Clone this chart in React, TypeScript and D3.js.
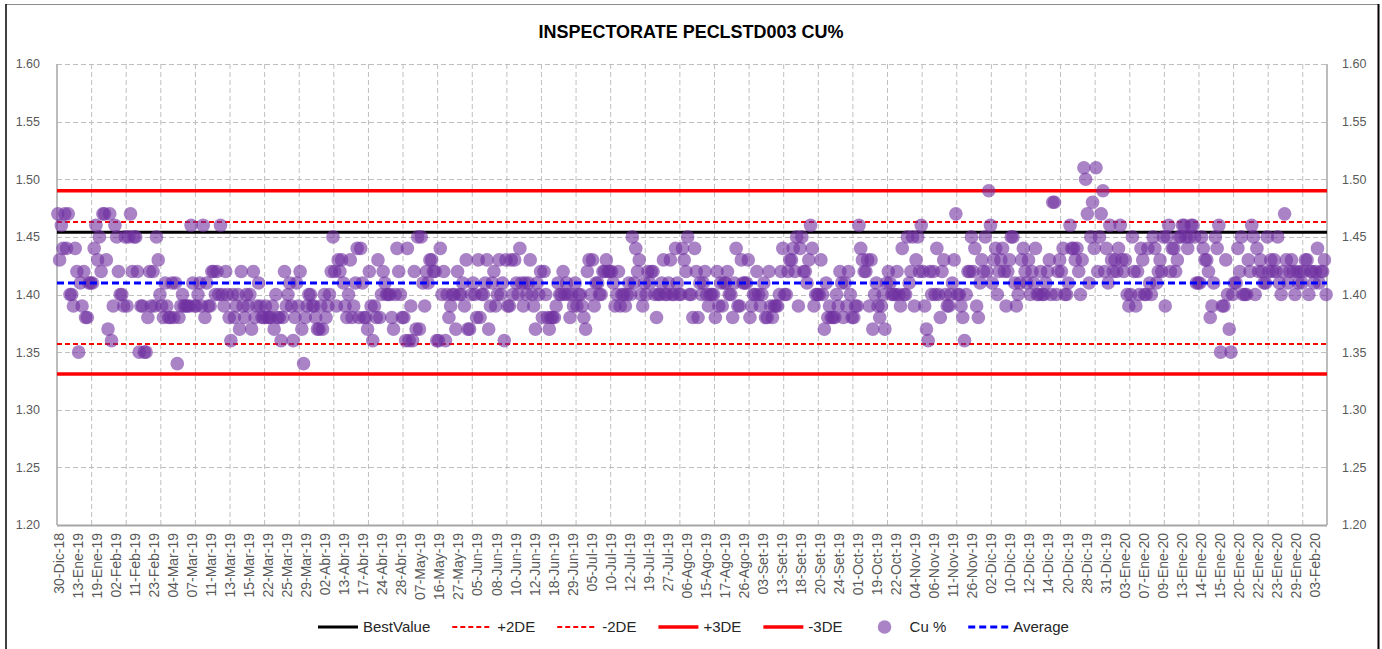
import React, { useEffect, useRef } from "react";
import * as d3 from "d3";

// Cu % results in sample order (one row = 20 samples)
const cuBlock1 = [
  1.47, 1.43, 1.46, 1.44, 1.47, 1.44, 1.47, 1.40, 1.40, 1.39, 1.44, 1.42, 1.35, 1.41, 1.39, 1.42, 1.38, 1.38, 1.41, 1.41,
  1.41, 1.44, 1.46, 1.43, 1.45, 1.42, 1.47, 1.47, 1.43, 1.37, 1.47, 1.36, 1.39, 1.46, 1.45, 1.42, 1.40, 1.40, 1.39, 1.45,
  1.39, 1.45, 1.47, 1.42, 1.45, 1.45, 1.42, 1.35, 1.39, 1.39, 1.35, 1.35, 1.38, 1.42, 1.39, 1.42, 1.39, 1.45, 1.43, 1.40,
  1.39, 1.38, 1.41, 1.39, 1.38, 1.38, 1.41, 1.38, 1.41, 1.34, 1.38, 1.39, 1.40, 1.39, 1.39, 1.39, 1.39, 1.46, 1.41, 1.39,
  1.39, 1.40, 1.41, 1.39, 1.46, 1.38, 1.41, 1.39, 1.39, 1.42, 1.42, 1.40, 1.42, 1.40, 1.46, 1.40, 1.39, 1.42, 1.40, 1.38,
  1.36, 1.40, 1.38, 1.39, 1.40, 1.37, 1.42, 1.39, 1.38, 1.40, 1.39, 1.40, 1.37, 1.42, 1.38, 1.39, 1.41, 1.39, 1.38, 1.38,
  1.39, 1.38, 1.38, 1.38, 1.39, 1.37, 1.40, 1.38, 1.38, 1.36, 1.38, 1.42, 1.39, 1.40, 1.41, 1.39, 1.36, 1.38, 1.41, 1.39,
  1.42, 1.37, 1.34, 1.38, 1.39, 1.40, 1.40, 1.39, 1.39, 1.38, 1.37, 1.37, 1.39, 1.37, 1.40, 1.38, 1.39, 1.40, 1.42, 1.45,
  1.42, 1.39, 1.43, 1.42, 1.43, 1.41, 1.39, 1.38, 1.40, 1.43, 1.38, 1.39, 1.41, 1.44, 1.38, 1.44, 1.41, 1.38, 1.38, 1.37,
];
const cuBlock2 = [
  1.42, 1.39, 1.36, 1.39, 1.38, 1.43, 1.38, 1.40, 1.42, 1.41, 1.40, 1.40, 1.40, 1.38, 1.37, 1.40, 1.44, 1.42, 1.40, 1.38,
  1.38, 1.36, 1.44, 1.36, 1.39, 1.36, 1.42, 1.37, 1.45, 1.37, 1.45, 1.41, 1.39, 1.42, 1.41, 1.43, 1.43, 1.42, 1.42, 1.36,
  1.36, 1.44, 1.40, 1.42, 1.36, 1.40, 1.38, 1.39, 1.40, 1.40, 1.37, 1.42, 1.40, 1.40, 1.41, 1.39, 1.43, 1.37, 1.37, 1.40,
  1.41, 1.40, 1.38, 1.43, 1.38, 1.40, 1.40, 1.41, 1.43, 1.37, 1.39, 1.41, 1.42, 1.39, 1.40, 1.43, 1.40, 1.41, 1.36, 1.43,
  1.39, 1.39, 1.43, 1.40, 1.43, 1.41, 1.40, 1.44, 1.41, 1.39, 1.41, 1.40, 1.41, 1.43, 1.40, 1.39, 1.37, 1.41, 1.40, 1.42,
  1.38, 1.42, 1.40, 1.38, 1.37, 1.38, 1.38, 1.38, 1.39, 1.41, 1.40, 1.40, 1.42, 1.40, 1.41, 1.40, 1.38, 1.40, 1.39, 1.41,
  1.39, 1.40, 1.40, 1.39, 1.38, 1.37, 1.42, 1.43, 1.40, 1.43, 1.39, 1.41, 1.41, 1.40, 1.40, 1.42, 1.42, 1.43, 1.42, 1.42,
  1.42, 1.41, 1.39, 1.40, 1.42, 1.39, 1.40, 1.40, 1.39, 1.40, 1.41, 1.40, 1.45, 1.41, 1.44, 1.42, 1.43, 1.40, 1.39, 1.41,
  1.40, 1.42, 1.41, 1.42, 1.42, 1.40, 1.38, 1.40, 1.40, 1.41, 1.43, 1.40, 1.40, 1.41, 1.43, 1.40, 1.40, 1.44, 1.41, 1.40,
];
const cuBlock3 = [
  1.40, 1.44, 1.43, 1.42, 1.45, 1.40, 1.40, 1.38, 1.44, 1.42, 1.38, 1.41, 1.40, 1.41, 1.42, 1.40, 1.39, 1.40, 1.40, 1.40,
  1.38, 1.42, 1.39, 1.41, 1.39, 1.41, 1.41, 1.42, 1.40, 1.40, 1.38, 1.41, 1.44, 1.39, 1.39, 1.43, 1.41, 1.41, 1.41, 1.43,
  1.38, 1.39, 1.40, 1.40, 1.42, 1.40, 1.39, 1.40, 1.41, 1.38, 1.38, 1.42, 1.39, 1.38, 1.39, 1.39, 1.39, 1.40, 1.42, 1.44,
  1.40, 1.40, 1.42, 1.43, 1.43, 1.44, 1.42, 1.45, 1.39, 1.44, 1.45, 1.42, 1.42, 1.41, 1.43, 1.46, 1.44, 1.39, 1.40, 1.40,
  1.40, 1.43, 1.40, 1.37, 1.41, 1.38, 1.39, 1.38, 1.38, 1.38, 1.40, 1.39, 1.42, 1.41, 1.38, 1.41, 1.39, 1.42, 1.40, 1.38,
  1.38, 1.39, 1.39, 1.46, 1.44, 1.43, 1.42, 1.42, 1.43, 1.39, 1.43, 1.37, 1.40, 1.41, 1.39, 1.38, 1.39, 1.40, 1.37, 1.41,
  1.42, 1.41, 1.40, 1.40, 1.40, 1.42, 1.40, 1.39, 1.44, 1.40, 1.40, 1.45, 1.41, 1.42, 1.45, 1.39, 1.43, 1.45, 1.42, 1.46,
  1.42, 1.39, 1.37, 1.36, 1.42, 1.40, 1.42, 1.40, 1.44, 1.40, 1.38, 1.42, 1.43, 1.40, 1.39, 1.39, 1.40, 1.41, 1.43, 1.47,
  1.40, 1.40, 1.39, 1.38, 1.36, 1.40, 1.42, 1.42, 1.45, 1.42, 1.44, 1.39, 1.38, 1.41, 1.43, 1.42, 1.45, 1.42, 1.49, 1.46,
];
const cuBlock4 = [
  1.41, 1.43, 1.44, 1.40, 1.42, 1.43, 1.44, 1.42, 1.39, 1.42, 1.43, 1.45, 1.45, 1.41, 1.39, 1.40, 1.41, 1.43, 1.44, 1.42,
  1.41, 1.43, 1.40, 1.42, 1.41, 1.44, 1.40, 1.40, 1.42, 1.40, 1.40, 1.41, 1.42, 1.43, 1.40, 1.48, 1.48, 1.40, 1.42, 1.43,
  1.42, 1.44, 1.40, 1.40, 1.41, 1.46, 1.44, 1.44, 1.43, 1.44, 1.42, 1.40, 1.43, 1.51, 1.50, 1.47, 1.41, 1.45, 1.48, 1.44,
  1.51, 1.42, 1.45, 1.47, 1.49, 1.42, 1.44, 1.41, 1.46, 1.43, 1.42, 1.43, 1.42, 1.44, 1.46, 1.43, 1.42, 1.43, 1.40, 1.39,
  1.40, 1.45, 1.42, 1.39, 1.42, 1.40, 1.44, 1.43, 1.40, 1.40, 1.44, 1.41, 1.40, 1.45, 1.44, 1.41, 1.42, 1.43, 1.42, 1.45,
  1.39, 1.45, 1.46, 1.42, 1.44, 1.44, 1.42, 1.43, 1.45, 1.45, 1.46, 1.46, 1.45, 1.44, 1.45, 1.46, 1.46, 1.45, 1.41, 1.41,
  1.41, 1.45, 1.44, 1.43, 1.43, 1.42, 1.38, 1.39, 1.41, 1.45, 1.44, 1.46, 1.35, 1.39, 1.39, 1.43, 1.40, 1.37, 1.35, 1.40,
  1.41, 1.41, 1.44, 1.42, 1.45, 1.40, 1.40, 1.40, 1.43, 1.42, 1.46, 1.45, 1.40, 1.44, 1.42, 1.43, 1.42, 1.41, 1.41, 1.45,
  1.42, 1.43, 1.42, 1.43, 1.42, 1.45, 1.41, 1.40, 1.42, 1.47, 1.43, 1.41, 1.42, 1.43, 1.42, 1.40, 1.42, 1.41, 1.42, 1.41,
  1.42, 1.43, 1.43, 1.40, 1.42, 1.42, 1.41, 1.42, 1.44, 1.41, 1.42, 1.42, 1.43, 1.40,
];
const cuValues = [...cuBlock1, ...cuBlock2, ...cuBlock3, ...cuBlock4];

// control limits
const bestValue = 1.454;
const averageValue = 1.41;
const plus2DE = 1.463;
const minus2DE = 1.357;
const plus3DE = 1.49;
const minus3DE = 1.331;

// category labels, one every 11 samples
const dateLabels = [
  "30-Dic-18", "13-Ene-19", "19-Ene-19", "02-Feb-19", "11-Feb-19", "23-Feb-19", "04-Mar-19", "07-Mar-19",
  "11-Mar-19", "13-Mar-19", "15-Mar-19", "22-Mar-19", "25-Mar-19", "29-Mar-19", "02-Abr-19", "13-Abr-19",
  "17-Abr-19", "24-Abr-19", "28-Abr-19", "07-May-19", "16-May-19", "27-May-19", "05-Jun-19", "08-Jun-19",
  "10-Jun-19", "12-Jun-19", "18-Jun-19", "29-Jun-19", "05-Jul-19", "10-Jul-19", "12-Jul-19", "19-Jul-19",
  "27-Jul-19", "06-Ago-19", "15-Ago-19", "17-Ago-19", "26-Ago-19", "03-Set-19", "13-Set-19", "18-Set-19",
  "20-Set-19", "24-Set-19", "01-Oct-19", "19-Oct-19", "22-Oct-19", "04-Nov-19", "06-Nov-19", "11-Nov-19",
  "26-Nov-19", "02-Dic-19", "10-Dic-19", "12-Dic-19", "14-Dic-19", "20-Dic-19", "28-Dic-19", "31-Dic-19",
  "03-Ene-20", "07-Ene-20", "09-Ene-20", "13-Ene-20", "14-Ene-20", "15-Ene-20", "20-Ene-20", "22-Ene-20",
  "23-Ene-20", "29-Ene-20", "03-Feb-20",
];
const labelStep = 11;
const gridStep = 20;
const yTicks = [1.2, 1.25, 1.3, 1.35, 1.4, 1.45, 1.5, 1.55, 1.6];

const title = "INSPECTORATE PECLSTD003 CU%";
const legendNames = ["BestValue", "+2DE", "-2DE", "+3DE", "-3DE", "Cu %", "Average"];

const FONT = "'Liberation Sans', Arial, sans-serif";
const PURPLE = "#7030A0";

const App = () => {
  const svgRef = useRef<SVGSVGElement>(null);

  useEffect(() => {
    const svg = d3.select(svgRef.current);
    svg.selectAll("*").remove();

    const width = 1382;
    const height = 649;
    const margin = { top: 64, right: 55, bottom: 124, left: 57 };
    const n = cuValues.length;

    const x = d3.scaleLinear().domain([0, n]).range([margin.left, width - margin.right]);
    const y = d3.scaleLinear().domain([1.2, 1.6]).range([height - margin.bottom, margin.top]);
    const cx = (i: number) => x(i + 0.5);

    svg.append("rect").attr("width", width).attr("height", height).attr("fill", "#fff");

    // outer frame
    svg.append("line").attr("x1", 6).attr("x2", 1378).attr("y1", 4.5).attr("y2", 4.5)
      .attr("stroke", "#8c8c8c").attr("stroke-width", 1);
    svg.append("line").attr("x1", 6).attr("x2", 6).attr("y1", 4).attr("y2", height)
      .attr("stroke", "#000").attr("stroke-width", 1.5);
    svg.append("line").attr("x1", 1378.5).attr("x2", 1378.5).attr("y1", 4).attr("y2", height)
      .attr("stroke", "#000").attr("stroke-width", 2);

    // title
    svg.append("text")
      .attr("x", 691).attr("y", 38)
      .attr("text-anchor", "middle")
      .attr("font-family", FONT).attr("font-weight", "bold").attr("font-size", 19)
      .attr("textLength", 305).attr("lengthAdjust", "spacingAndGlyphs")
      .attr("fill", "#000")
      .text(title);

    // grid
    const grid = svg.append("g").attr("stroke", "#bfbfbf").attr("stroke-width", 1).attr("stroke-dasharray", "5,3");
    grid.selectAll("line.h")
      .data(yTicks.filter((t) => t > 1.2))
      .join("line")
      .attr("x1", x(0)).attr("x2", x(n))
      .attr("y1", (d) => Math.round(y(d)) + 0.5).attr("y2", (d) => Math.round(y(d)) + 0.5);
    grid.selectAll("line.v")
      .data(d3.range(gridStep, n, gridStep))
      .join("line")
      .attr("x1", (d) => x(d)).attr("x2", (d) => x(d))
      .attr("y1", y(1.6)).attr("y2", y(1.2));

    // axes
    const axisColor = "#a6a6a6";
    svg.append("line").attr("x1", x(0)).attr("x2", x(n)).attr("y1", y(1.2) + 0.5).attr("y2", y(1.2) + 0.5)
      .attr("stroke", axisColor).attr("stroke-width", 2);
    svg.append("line").attr("x1", x(0)).attr("x2", x(0)).attr("y1", y(1.6)).attr("y2", y(1.2))
      .attr("stroke", axisColor).attr("stroke-width", 1.5);
    svg.append("line").attr("x1", x(n)).attr("x2", x(n)).attr("y1", y(1.6)).attr("y2", y(1.2))
      .attr("stroke", axisColor).attr("stroke-width", 1.5);

    const fmt = d3.format(".2f");
    svg.append("g").selectAll("text")
      .data(yTicks)
      .join("text")
      .attr("x", 40).attr("y", (d) => y(d)).attr("dy", "0.35em")
      .attr("text-anchor", "end")
      .attr("font-family", FONT).attr("font-size", 12.5).attr("fill", "#595959")
      .text((d) => fmt(d));
    svg.append("g").selectAll("text")
      .data(yTicks)
      .join("text")
      .attr("x", 1342).attr("y", (d) => y(d)).attr("dy", "0.35em")
      .attr("text-anchor", "start")
      .attr("font-family", FONT).attr("font-size", 12.5).attr("fill", "#595959")
      .text((d) => fmt(d));

    // category labels
    svg.append("g").selectAll("text")
      .data(dateLabels)
      .join("text")
      .attr("transform", (_, j) => `translate(${cx(j * labelStep) + 1},533) rotate(-90)`)
      .attr("dy", "0.35em")
      .attr("text-anchor", "end")
      .attr("font-family", FONT).attr("font-size", 14).attr("fill", "#595959")
      .text((d) => d);

    // limit lines
    const hLine = (v: number, color: string, w: number, dash: string | null) => {
      svg.append("line")
        .attr("x1", x(0)).attr("x2", x(n))
        .attr("y1", y(v)).attr("y2", y(v))
        .attr("stroke", color).attr("stroke-width", w)
        .attr("stroke-dasharray", dash);
    };
    hLine(bestValue, "#000", 3, null);
    hLine(plus2DE, "#ff0000", 2, "5,3");
    hLine(minus2DE, "#ff0000", 2, "5,3");
    hLine(plus3DE, "#ff0000", 3.5, null);
    hLine(minus3DE, "#ff0000", 3.5, null);

    // Cu % points
    svg.append("g").selectAll("circle")
      .data(cuValues)
      .join("circle")
      .attr("cx", (_, i) => cx(i))
      .attr("cy", (d) => y(d))
      .attr("r", 6.8)
      .attr("fill", PURPLE)
      .attr("fill-opacity", 0.6);

    hLine(averageValue, "#0000ff", 3, "7,4");

    // legend
    const legendStyle = [
      { color: "#000", w: 3, dash: null },
      { color: "#ff0000", w: 2, dash: "5,3" },
      { color: "#ff0000", w: 2, dash: "5,3" },
      { color: "#ff0000", w: 3.5, dash: null },
      { color: "#ff0000", w: 3.5, dash: null },
      { color: null, w: 0, dash: null },
      { color: "#0000ff", w: 3, dash: "7,4" },
    ];
    const legendY = 627;
    const legend = svg.append("g");
    let lx = 318;
    legendNames.forEach((name, k) => {
      const st = legendStyle[k];
      if (st.color) {
        legend.append("line")
          .attr("x1", lx).attr("x2", lx + 40)
          .attr("y1", legendY).attr("y2", legendY)
          .attr("stroke", st.color).attr("stroke-width", st.w)
          .attr("stroke-dasharray", st.dash);
      } else {
        legend.append("circle")
          .attr("cx", lx + 20).attr("cy", legendY).attr("r", 6.8)
          .attr("fill", PURPLE).attr("fill-opacity", 0.6);
      }
      const t = legend.append("text")
        .attr("x", lx + 45).attr("y", legendY).attr("dy", "0.35em")
        .attr("font-family", FONT).attr("font-size", 15).attr("fill", "#262626")
        .text(name);
      const tw = (t.node() as SVGTextElement).getComputedTextLength();
      lx += 45 + tw + 22;
    });
  }, []);

  return (
    <svg
      ref={svgRef}
      width={1382}
      height={649}
      style={{ position: "absolute", left: 0, top: 0, display: "block" }}
    ></svg>
  );
};

export default App;
